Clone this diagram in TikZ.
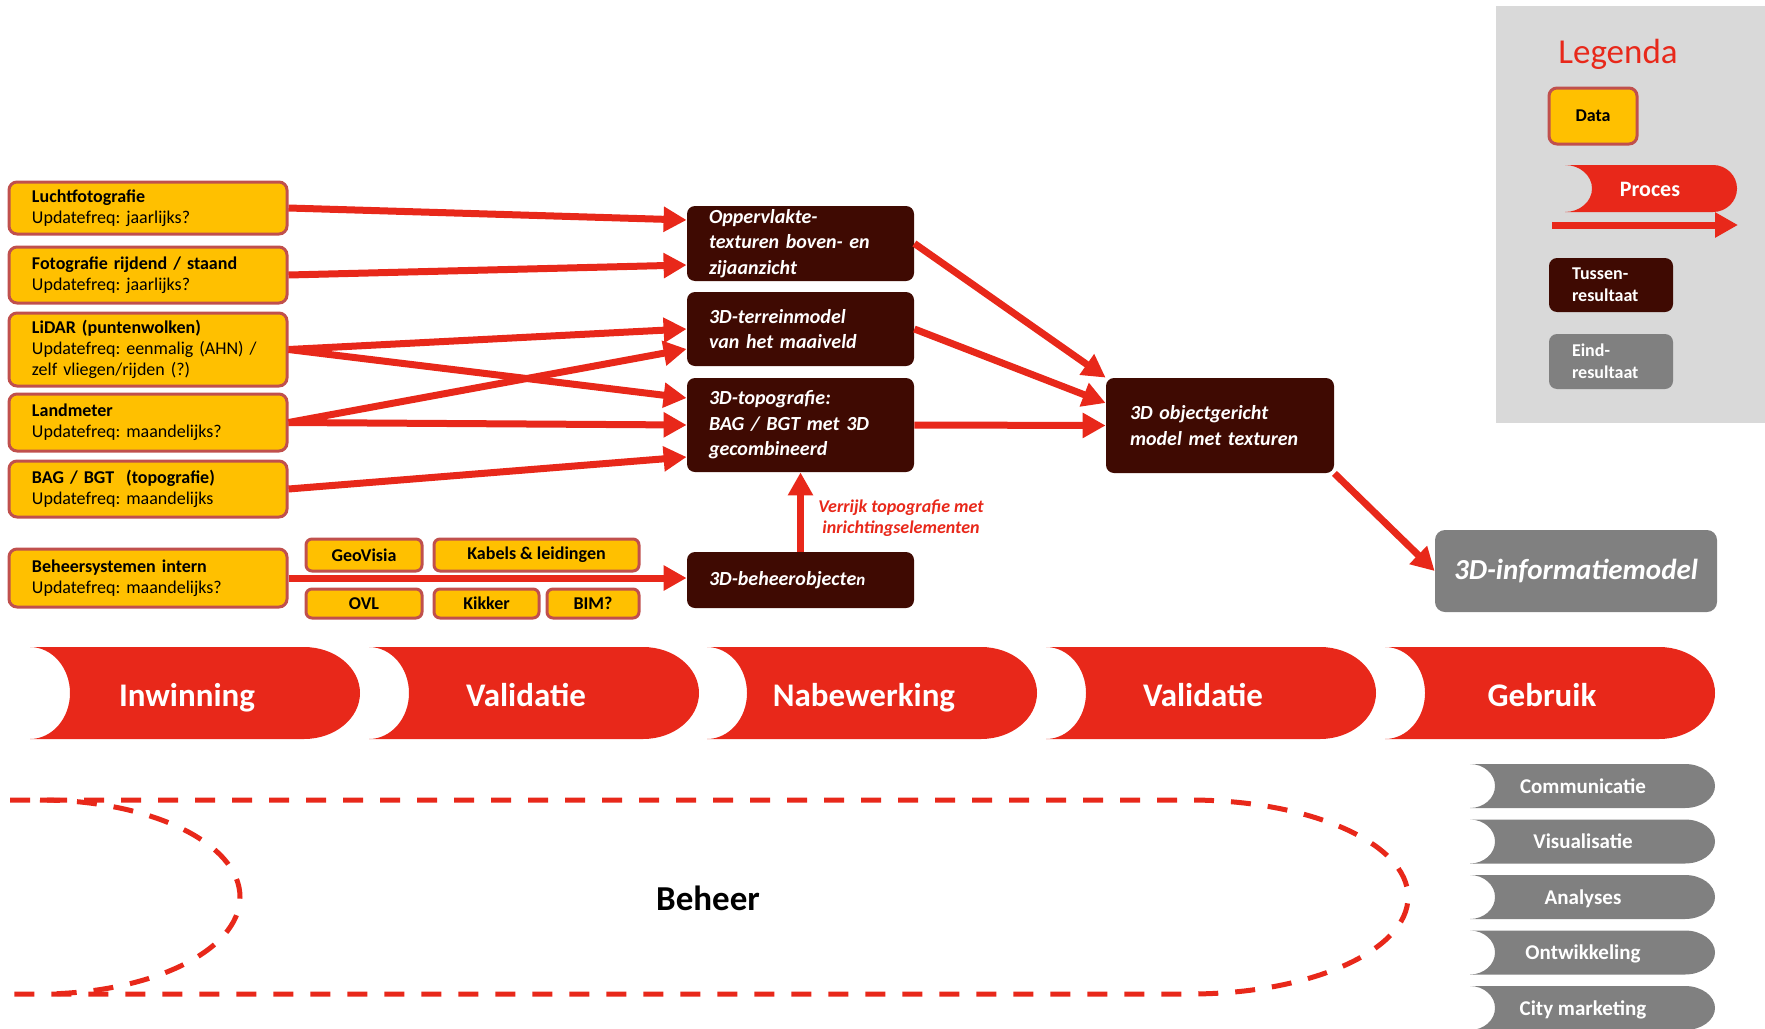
\documentclass[tikz,border=0pt]{standalone}
\usepackage{fontspec}
\setmainfont{Carlito}
\usepackage{tikz}
\usetikzlibrary{shapes, arrows, arrows.meta, calc, positioning}
\frenchspacing
\definecolor{datageel}{HTML}{FFC000}
\definecolor{datarand}{HTML}{C0504D}
\definecolor{tussenbruin}{HTML}{3F0A02}
\definecolor{eindgrijs}{HTML}{808080}
\definecolor{procesrood}{HTML}{E8281A}
\definecolor{legendagrijs}{HTML}{D9D9D9}
\tikzstyle{datasource} = [rectangle, draw=datarand, line width=1.5pt, fill=datageel,
    rounded corners=4pt, text width=116pt, inner xsep=11.5pt, align=left,
    font=\fontsize{9}{10.5}\selectfont]
\tikzstyle{tag} = [rectangle, draw=datarand, line width=1.5pt, fill=datageel,
    rounded corners=3pt, inner sep=0pt, align=center, font=\bfseries\fontsize{9}{11}\selectfont]
\tikzstyle{intermediate} = [rectangle, fill=tussenbruin, rounded corners=4pt, text=white,
    text width=91.5pt, inner xsep=11pt, inner ysep=1pt, align=left,
    font=\bfseries\itshape\fontsize{10}{12.75}\selectfont]
\tikzstyle{result} = [rectangle, fill=eindgrijs, rounded corners=5pt, text=white,
    align=center, font=\bfseries\itshape\fontsize{14.5}{17}\selectfont]
\tikzstyle{arrowline} = [draw=procesrood, line width=3.5pt, -{Triangle[length=11.5pt, width=12pt]}]
\tikzstyle{phase} = [text=white, anchor=base, font=\bfseries\fontsize{16.5}{20}\selectfont]
\tikzstyle{usage} = [text=white, anchor=base, font=\bfseries\fontsize{10.5}{12}\selectfont]
\tikzstyle{beheerlijn} = [draw=procesrood, line width=2.5pt, dash pattern=on 10pt off 8.5pt]

\begin{document}
\begin{tikzpicture}[x=0.5pt, y=-0.5pt]
    \useasboundingbox (0,0) rectangle (1765,1028);
    % Legenda
    \fill [legendagrijs] (1496,6) rectangle (1765,423);
    \node [text=procesrood, font=\fontsize{17.5}{20}\selectfont] (legenda) at (1618,54) {Legenda};
    \node [tag, minimum width=44pt, minimum height=28pt, rounded corners=4pt] (legdata) at (1593,116) {Data};
    \fill [procesrood] (1565,165) -- (1713,165) arc[start angle=-90, end angle=90, x radius=24, y radius=23.5]
        -- (1565,212) arc[start angle=90, end angle=-90, x radius=27, y radius=23.5] -- cycle;
    \node [usage, anchor=center, font=\bfseries\fontsize{11}{13}\selectfont] (legproces) at (1650,189) {Proces};
    \coordinate (legpijl-start) at (1552,225);
    \coordinate (legpijl-eind) at (1738,225);
    \path [arrowline] (legpijl-start) -- (legpijl-eind);
    \node [intermediate, text width=39pt, inner xsep=11.5pt, minimum height=27pt,
        font=\bfseries\fontsize{9}{11}\selectfont] (legtussen) at (1611,285) {Tussen-\\resultaat};
    \node [intermediate, fill=eindgrijs, text width=39pt, inner xsep=11.5pt, minimum height=27.5pt,
        font=\bfseries\fontsize{9}{11}\selectfont] (legeind) at (1611,361.5) {Eind-\\resultaat};
    % Nodes
    \node [datasource, minimum height=26pt] (lucht) at (148,208) {\textbf{Luchtfotografie}\\Updatefreq: jaarlijks?};
    \node [datasource, minimum height=28pt] (foto) at (148,275) {\textbf{Fotografie rijdend / staand}\\Updatefreq: jaarlijks?};
    \node [datasource, minimum height=36.5pt] (lidar) at (148,349.5) {\textbf{LiDAR (puntenwolken)}\\Updatefreq: eenmalig (AHN) /\\zelf vliegen/rijden (?)};
    \node [datasource, minimum height=28.5pt] (landmeter) at (148,422.5) {\textbf{Landmeter}\\Updatefreq: maandelijks?};
    \node [datasource, minimum height=28pt] (bag) at (148,489) {\textbf{BAG / BGT\ \ (topografie)}\\Updatefreq: maandelijks};
    \node [datasource, minimum height=29pt] (beheersys) at (148,578) {\textbf{Beheersystemen intern}\\Updatefreq: maandelijks?};
    \node [tag, minimum width=58pt, minimum height=16pt] (geovisia) at (364,555) {GeoVisia};
    \node [tag, minimum width=102.5pt, minimum height=16pt] (kabels) at (536.5,555) {Kabels \& leidingen};
    \node [tag, minimum width=58pt, minimum height=14.5pt] (ovl) at (364,603.5) {OVL};
    \node [tag, minimum width=52.5pt, minimum height=14.5pt] (kikker) at (486.5,603.5) {Kikker};
    \node [tag, minimum width=46pt, minimum height=14.5pt] (bim) at (593,603.5) {BIM?};
    \node [intermediate, minimum height=37.5pt] (oppervlakte) at (800.5,243.5) {Oppervlakte-\\texturen boven- en\\zijaanzicht};
    \node [intermediate, minimum height=37pt] (terrein) at (800.5,329) {3D-terreinmodel\\van het maaiveld};
    \node [intermediate, minimum height=47pt] (topo) at (800.5,425) {3D-topografie:\\BAG / BGT met 3D\\gecombineerd};
    \node [intermediate, minimum height=28pt] (beheerobj) at (800.5,580) {3D-beheerobjecte{\fontsize{8.5}{10}\selectfont n}};
    \node [intermediate, text width=90pt, inner xsep=12pt, minimum height=47.5pt] (object) at (1220,425.5) {3D objectgericht\\model met texturen};
    \node [result, minimum width=141pt, minimum height=41pt] (info) at (1576,571) {3D-informatiemodel};
    \node [text=procesrood, align=center, font=\bfseries\itshape\fontsize{9}{10.5}\selectfont] (verrijk) at (901,518) {Verrijk topografie met\\inrichtingselementen};
    % Edges
    \path [arrowline] (lucht.east) -- ($(oppervlakte.west)+(0,-23.5)$);
    \path [arrowline] (foto.east) -- ($(oppervlakte.west)+(0,21.5)$);
    \path [arrowline] (lidar.east) -- (terrein.west);
    \path [arrowline] (lidar.east) -- ($(topo.west)+(0,-27)$);
    \path [arrowline] (landmeter.east) -- ($(terrein.west)+(0,20)$);
    \path [arrowline] (landmeter.east) -- (topo.west);
    \path [arrowline] (bag.east) -- ($(topo.west)+(0,32)$);
    \path [arrowline] (beheersys.east) -- ($(beheerobj.west)+(0,-2)$);
    \path [arrowline] (beheerobj.north) -- (topo.south);
    \path [arrowline] (oppervlakte.east) -- (object.north west);
    \path [arrowline] (terrein.east) -- ($(object.west)+(0,-22.5)$);
    \path [arrowline] (topo.east) -- (object.west);
    \path [arrowline] (object.south east) -- (info.west);
    % Fasen
    \foreach \s/\naam [count=\i] in {30/Inwinning, 369/Validatie, 707/Nabewerking, 1046/Validatie, 1385/Gebruik} {
        \fill [procesrood] (\s,647) -- ++(274,0) arc[start angle=-90, end angle=90, x radius=56, y radius=46]
            -- (\s,739) arc[start angle=90, end angle=-90, x radius=40, y radius=46] -- cycle;
        \node [phase] (fase\i) at (\s+157,706) {\naam};
    }
    % Gebruik
    \foreach \naam [count=\i from 0] in {Communicatie, Visualisatie, Analyses, Ontwikkeling, City marketing} {
        \fill [eindgrijs] (1470,{764+55.5*\i}) -- (1685,{764+55.5*\i})
            arc[start angle=-90, end angle=90, x radius=30, y radius=22]
            -- (1470,{808+55.5*\i}) arc[start angle=90, end angle=-90, x radius=25, y radius=22] -- cycle;
        \node [usage] (gebruik\i) at (1583,{793+55.5*\i}) {\naam};
    }
    % Beheer
    \path [beheerlijn] (10,800) -- (1190,800) arc[start angle=-90, end angle=90, x radius=218, y radius=97] -- (14,994);
    \path [beheerlijn] (40,800) arc[start angle=-90, end angle=90, x radius=200, y radius=97];
    \node [font=\bfseries\fontsize{17.5}{20}\selectfont] (beheer) at (708,898) {Beheer};
\end{tikzpicture}
\end{document}
